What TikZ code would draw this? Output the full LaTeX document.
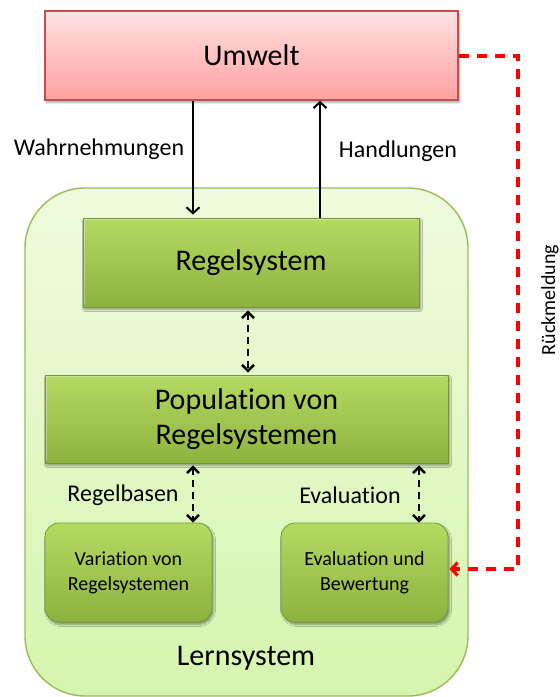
\documentclass[tikz,border=0pt]{standalone}
\usepackage{fontspec}
\setmainfont{Carlito}[Ligatures=NoCommon]
\usetikzlibrary{arrows.meta,shadows.blur,calc}

\definecolor{envtop}{HTML}{FFE3E3}
\definecolor{envbot}{HTML}{FFA0A0}
\definecolor{envedge}{HTML}{C0504D}
\definecolor{learntop}{HTML}{EEFBDD}
\definecolor{learnbot}{HTML}{D6F5AE}
\definecolor{learnedge}{HTML}{9BBB59}
\definecolor{greentop}{HTML}{B4DA62}
\definecolor{greenbot}{HTML}{8DB33F}
\definecolor{greenedge}{HTML}{76963A}

\tikzset{
  bigtext/.style={font=\fontsize{30}{35}\selectfont},
  labeltext/.style={font=\fontsize{24}{28}\selectfont},
  sidetext/.style={font=\fontsize{20}{24}\selectfont},
  smalltext/.style={font=\fontsize{20}{25}\selectfont, align=center},
  envbox/.style={rectangle, draw=envedge, line width=1.5pt,
    top color=envtop, bottom color=envbot, inner sep=0pt,
    blur shadow={shadow xshift=1.5pt, shadow yshift=-2.5pt, shadow opacity=35, shadow blur steps=6}},
  learnbox/.style={rectangle, rounded corners=60pt, draw=learnedge, line width=1.4pt,
    top color=learntop, bottom color=learnbot, inner sep=0pt},
  greenbox/.style={rectangle, draw=greenedge, line width=0.8pt,
    top color=greentop, bottom color=greenbot, inner sep=0pt, align=center,
    blur shadow={shadow xshift=1.5pt, shadow yshift=-2.5pt, shadow opacity=40, shadow blur steps=6}},
  roundgreen/.style={greenbox, rounded corners=14pt},
  bevel/.style={draw=white, opacity=0.35, line width=1.5pt},
  flow/.style={line width=2pt, -{Straight Barb[length=6pt,width=13pt]}},
  exchange/.style={line width=2.4pt, dash pattern=on 7pt off 5pt,
    {Straight Barb[length=6pt,width=12pt]}-{Straight Barb[length=6pt,width=12pt]}},
  feedback/.style={draw=red, line width=3.2pt, dash pattern=on 10pt off 8pt,
    -{Straight Barb[length=6pt,width=13pt]}},
}

\begin{document}
\begin{tikzpicture}[x=1pt, y=-1pt]
  \useasboundingbox (0,0) rectangle (560,697);

  % outer learning system
  \node[learnbox, minimum width=443pt, minimum height=508pt] (lern) at (246.5,442) {};
  \node[bigtext] (lernlabel) at (246,658) {Lernsystem};

  % environment
  \node[envbox, bigtext, minimum width=413pt, minimum height=89pt] (umwelt) at (251.5,55.5) {Umwelt};

  % inner boxes
  \node[greenbox, bigtext, minimum width=336pt, minimum height=89pt] (regel) at (251,262.5) {Regelsystem};
  \node[greenbox, bigtext, minimum width=403pt, minimum height=88pt] (pop) at (246.5,419) {Population von\\Regelsystemen};
  \node[roundgreen, smalltext, minimum width=167pt, minimum height=99pt] (var) at (128.5,572.5) {Variation von\\Regelsystemen};
  \node[roundgreen, smalltext, minimum width=167pt, minimum height=99pt] (eval) at (364.5,572.5) {Evaluation und\\Bewertung};

  % light bevel along the top and left edges of the bars
  \draw[bevel] ([shift={(2,-3)}]regel.south west) |- ([shift={(-3,2)}]regel.north east);
  \draw[bevel] ([shift={(2,-3)}]pop.south west) |- ([shift={(-3,2)}]pop.north east);

  % connector columns
  \coordinate (xw) at (193,0);
  \coordinate (xh) at (320,0);
  \coordinate (xm) at (248,0);
  \coordinate (xr) at (193,0);
  \coordinate (xe) at (419,0);
  \coordinate (fbtop) at (518,56);
  \coordinate (fbbot) at (518,569);

  % perception and action
  \draw[flow] (umwelt.south -| xw) -- ($(regel.north -| xw)+(0,-3)$);
  \draw[flow] (regel.north -| xh) -- (umwelt.south -| xh);
  \node[labeltext] (wahr) at (99,149) {Wahrnehmungen};
  \node[labeltext] (hand) at (398,151) {Handlungen};

  % exchanges inside the learning system
  \draw[exchange] ($(regel.south -| xm)+(0,3)$) -- ($(pop.north -| xm)+(0,-2)$);
  \draw[exchange] ($(pop.south -| xr)+(0,2)$) -- (var.north -| xr);
  \draw[exchange] ($(pop.south -| xe)+(0,2)$) -- (eval.north -| xe);
  \node[labeltext] (basen) at (123,495) {Regelbasen};
  \node[labeltext] (evlab) at (350,495) {Evaluation};

  % feedback loop
  \draw[feedback] (umwelt.east |- fbtop) -- (fbtop) -- (fbbot) -- ($(eval.east |- fbbot)+(1,0)$);
  \node[sidetext, rotate=90, anchor=base] (rueck) at (555,300) {Rückmeldung};
\end{tikzpicture}
\end{document}
